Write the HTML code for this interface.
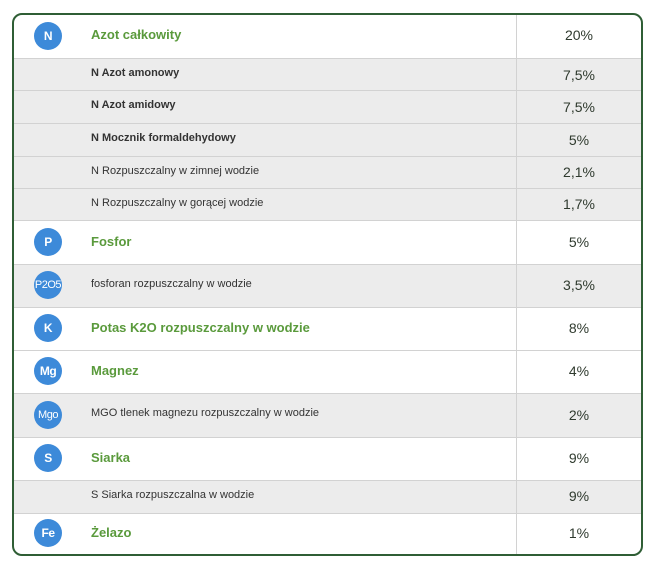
<!DOCTYPE html>
<html><head><meta charset="utf-8"><style>
body{margin:0;width:653px;height:567px;background:#fff;font-family:"Liberation Sans","DejaVu Sans",sans-serif;position:relative;overflow:hidden}
.box{position:absolute;left:12px;top:13px;width:627px;height:539px;border:2px solid #2f5e35;border-radius:10px;overflow:hidden}
.r{position:absolute;left:0;width:627px;border-top:1px solid #d2d2d2;box-sizing:border-box}
.g{background:#ececec}
.c{position:absolute;left:20px;width:28px;height:28px;border-radius:50%;background:#3d8ad9;color:#fff;font-weight:bold;font-size:12px;line-height:28px;text-align:center;letter-spacing:-0.5px}
.c.s{font-weight:normal;font-size:11px}
.t{position:absolute;left:77px;font-size:11px;color:#333}
.b{font-weight:bold;color:#333}
.h{font-size:13px;font-weight:bold;color:#5a9a3c}
.v{position:absolute;left:503px;width:124px;text-align:center;font-size:14px;color:#2f3a2e}
.d{position:absolute;left:502px;top:0;width:1px;height:539px;background:#d2d2d2}
</style></head><body>
<div class="box">
<div class="r" style="top:-1px;height:44px"><div class="c" style="top:7px">N</div><div class="t h" style="top:12px">Azot całkowity</div><div class="v" style="top:12px">20%</div></div>
<div class="r g" style="top:43px;height:32px"><div class="t b" style="top:8px">N Azot amonowy</div><div class="v" style="top:8px">7,5%</div></div>
<div class="r g" style="top:75px;height:33px"><div class="t b" style="top:8px">N Azot amidowy</div><div class="v" style="top:8px">7,5%</div></div>
<div class="r g" style="top:108px;height:33px"><div class="t b" style="top:8px">N Mocznik formaldehydowy</div><div class="v" style="top:8px">5%</div></div>
<div class="r g" style="top:141px;height:32px"><div class="t" style="top:8px">N Rozpuszczalny w zimnej wodzie</div><div class="v" style="top:7px">2,1%</div></div>
<div class="r g" style="top:173px;height:32px"><div class="t" style="top:8px">N Rozpuszczalny w gorącej wodzie</div><div class="v" style="top:7px">1,7%</div></div>
<div class="r" style="top:205px;height:44px"><div class="c" style="top:7px">P</div><div class="t h" style="top:13px">Fosfor</div><div class="v" style="top:13px">5%</div></div>
<div class="r g" style="top:249px;height:43px"><div class="c s" style="top:6px">P2O5</div><div class="t" style="top:13px">fosforan rozpuszczalny w wodzie</div><div class="v" style="top:12px">3,5%</div></div>
<div class="r" style="top:292px;height:43px"><div class="c" style="top:6px">K</div><div class="t h" style="top:12px">Potas K2O rozpuszczalny w wodzie</div><div class="v" style="top:12px">8%</div></div>
<div class="r" style="top:335px;height:43px"><div class="c" style="top:6px">Mg</div><div class="t h" style="top:12px">Magnez</div><div class="v" style="top:12px">4%</div></div>
<div class="r g" style="top:378px;height:44px"><div class="c s" style="top:7px">Mgo</div><div class="t" style="top:13px">MGO tlenek magnezu rozpuszczalny w wodzie</div><div class="v" style="top:13px">2%</div></div>
<div class="r" style="top:422px;height:43px"><div class="c" style="top:6px">S</div><div class="t h" style="top:12px">Siarka</div><div class="v" style="top:12px">9%</div></div>
<div class="r g" style="top:465px;height:33px"><div class="t" style="top:8px">S Siarka rozpuszczalna w wodzie</div><div class="v" style="top:7px">9%</div></div>
<div class="r" style="top:498px;height:42px"><div class="c" style="top:5px">Fe</div><div class="t h" style="top:11px">Żelazo</div><div class="v" style="top:11px">1%</div></div>
<div class="d"></div>
</div>
</body></html>
